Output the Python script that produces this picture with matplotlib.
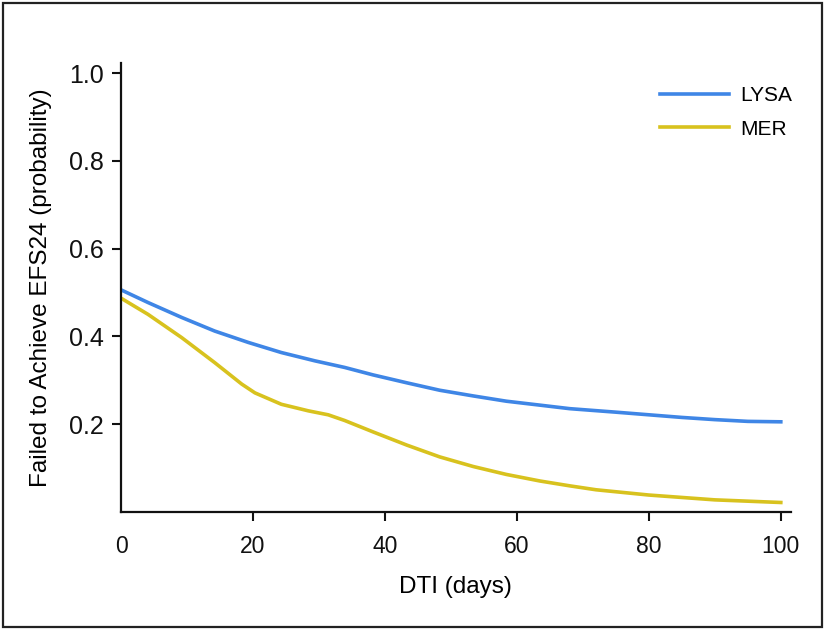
import matplotlib
matplotlib.use("Agg")
import matplotlib.pyplot as plt
from matplotlib import font_manager as fm
from matplotlib.patches import Rectangle

# ---- data ----
dti_lysa = [0, 4.1, 9.2, 14.2, 19.3, 24.3, 29.4, 33.9, 38.2, 43.3, 48.3, 53.4, 58.4, 63.5, 68.0, 75, 80, 85, 90, 95, 100]
fail_lysa = [0.506, 0.477, 0.443, 0.412, 0.386, 0.363, 0.344, 0.329, 0.312, 0.294, 0.277, 0.264, 0.252, 0.243, 0.235, 0.227, 0.221, 0.215, 0.210, 0.206, 0.205]

dti_mer = [0, 4.1, 9.2, 14.2, 18.3, 20.3, 24.3, 28.4, 31.4, 33.9, 38.2, 43.3, 48.3, 53.4, 58.4, 63.5, 68.0, 72, 80, 90, 100]
fail_mer = [0.487, 0.450, 0.397, 0.340, 0.291, 0.271, 0.245, 0.230, 0.221, 0.208, 0.182, 0.152, 0.125, 0.103, 0.085, 0.070, 0.059, 0.050, 0.038, 0.027, 0.021]

series_names = ["LYSA", "MER"]
x_ticks = [0, 20, 40, 60, 80, 100]
y_ticks = [0.2, 0.4, 0.6, 0.8, 1.0]

# ---- fonts ----
def has_font(name):
    try:
        fm.findfont(fm.FontProperties(family=name), fallback_to_default=False)
        return True
    except Exception:
        return False

base = "Liberation Sans" if has_font("Liberation Sans") else "DejaVu Sans"
narrow = None
for cand in ["Liberation Sans Narrow", "DejaVu Sans Condensed", "Arial Narrow"]:
    if has_font(cand):
        narrow = cand
        break

plt.rcParams["font.family"] = [base, "DejaVu Sans"]

fig = plt.figure(figsize=(8.26, 6.30), dpi=100)
ax = fig.add_axes([121 / 826, 1 - 511.7 / 630, (790.7 - 121) / 826, (511.7 - 62.7) / 630])

c_blue = "#3F86E6"
c_yel = "#D8C21E"
ax.plot(dti_lysa, fail_lysa, color=c_blue, lw=2.6, label=series_names[0], solid_joinstyle="round")
ax.plot(dti_mer, fail_mer, color=c_yel, lw=2.6, label=series_names[1], solid_joinstyle="round")

ax.set_xlim(0, 101.5)
ax.set_ylim(0, 1.024)

for s in ["top", "right"]:
    ax.spines[s].set_visible(False)
for s in ["left", "bottom"]:
    ax.spines[s].set_linewidth(1.6)
    ax.spines[s].set_color("#111111")

if narrow:
    xfont = dict(family=[narrow, base], size=19)
    labfont = dict(family=[narrow, base], size=21)
else:
    xfont = dict(family=[base], size=16.5)
    labfont = dict(family=[base], size=17.5)

ax.set_xticks(x_ticks)
ax.set_xticklabels([str(v) for v in x_ticks], **xfont)
ax.set_yticks(y_ticks)
ax.set_yticklabels([f"{v:.1f}" for v in y_ticks], fontsize=18)
ax.tick_params(axis="x", direction="out", length=6.5, width=1.5, pad=10, colors="#111111")
ax.tick_params(axis="y", direction="out", length=6.5, width=1.5, pad=6, colors="#111111")
ax.xaxis.get_major_ticks()[0].tick1line.set_visible(False)

ax.set_xlabel("DTI (days)", labelpad=13, **labfont)
ax.set_ylabel("Failed to Achieve EFS24 (probability)", labelpad=12, **labfont)

leg = ax.legend(loc="upper right", bbox_to_anchor=(1.03, 0.99), frameon=False,
                fontsize=15, handlelength=3.3, handletextpad=0.55, labelspacing=0.7)

# outer frame
fig.add_artist(Rectangle((3 / 826, 3 / 630), 819 / 826, 624 / 630, transform=fig.transFigure,
                         fill=False, edgecolor="#222222", linewidth=1.6))

fig.savefig("out.png", dpi=100)
